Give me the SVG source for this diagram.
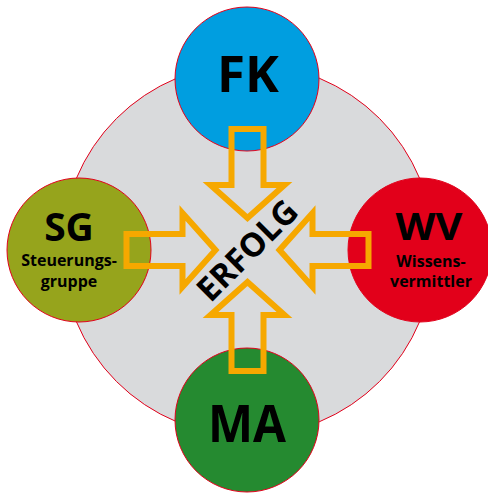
<svg xmlns="http://www.w3.org/2000/svg" width="488" height="493" viewBox="0 0 488 493">
  <defs>
    <style>
      .node { stroke: #e2001a; stroke-width: 1; }
      .lbl { font-family: "Open Sans", "Liberation Sans", sans-serif; font-weight: 700; fill: #000; text-anchor: middle; }
      .arrow { fill: none; stroke: #f6a800; stroke-width: 6; stroke-linejoin: miter; stroke-miterlimit: 10; }
    </style>
    <path id="arr" d="M -16,-121 L 16,-121 L 16,-65 L 37,-65 L 0,-32 L -37,-65 L -16,-65 Z"/>
  </defs>
  <rect width="488" height="493" fill="#ffffff"/>
  <g id="background">
    <circle cx="248" cy="250" r="186" fill="#d9dadc" stroke="#e2001a" stroke-width="1"/>
  </g>
  <g id="node-FK">
    <circle class="node" cx="247" cy="79" r="72" fill="#009ee0"/>
    <text class="lbl" x="248" y="92" font-size="51">FK</text>
  </g>
  <g id="node-SG">
    <circle class="node" cx="79" cy="250" r="72" fill="#96a41c"/>
    <text class="lbl" x="69" y="241" font-size="39">SG</text>
    <text class="lbl" x="69" y="266" font-size="16">Steuerungs-</text>
    <text class="lbl" x="69" y="287" font-size="16">gruppe</text>
  </g>
  <g id="node-WV">
    <circle class="node" cx="420" cy="250" r="72" fill="#e2001a"/>
    <text class="lbl" x="429" y="240" font-size="38" textLength="67" lengthAdjust="spacingAndGlyphs">WV</text>
    <text class="lbl" x="431" y="266.5" font-size="16">Wissens-</text>
    <text class="lbl" x="431" y="287" font-size="16">vermittler</text>
  </g>
  <g id="node-MA">
    <circle class="node" cx="247" cy="420" r="72" fill="#258a30"/>
    <text class="lbl" x="247" y="442" font-size="52" textLength="78" lengthAdjust="spacingAndGlyphs">MA</text>
  </g>
  <g id="connectors">
    <use href="#arr" class="arrow" transform="translate(247.5,250)"/>
    <use href="#arr" class="arrow" transform="translate(247.5,250) rotate(-90)"/>
    <use href="#arr" class="arrow" transform="translate(247.5,250) rotate(90)"/>
    <use href="#arr" class="arrow" transform="translate(247.5,250) rotate(180)"/>
  </g>
  <g id="center-label">
    <text class="lbl" font-size="33" transform="translate(247,250) rotate(-45)" x="0" y="12">ERFOLG</text>
  </g>
</svg>
